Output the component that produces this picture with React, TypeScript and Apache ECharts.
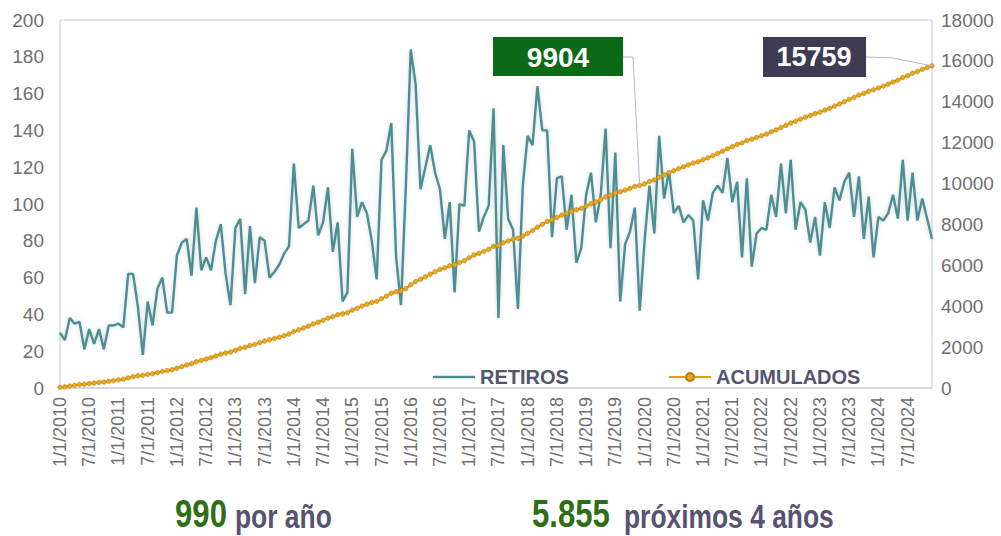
import React, { useEffect, useRef } from "react";
import * as echarts from "echarts";

const YEARS = [2010, 2011, 2012, 2013, 2014, 2015, 2016, 2017, 2018, 2019, 2020, 2021, 2022, 2023, 2024];
const MONTHS = [1, 2, 3, 4, 5, 6, 7, 8, 9, 10, 11, 12];

const RETIROS_2010 = [30, 26, 38, 35, 36, 21, 32, 24, 32, 21, 34, 34];
const RETIROS_2011 = [35, 33, 62, 62, 44, 18, 47, 34, 54, 60, 41, 41];
const RETIROS_2012 = [72, 79, 81, 61, 98, 64, 71, 64, 80, 89, 62, 45];
const RETIROS_2013 = [87, 92, 51, 88, 57, 82, 80, 60, 63, 67, 73, 77];
const RETIROS_2014 = [122, 87, 89, 91, 110, 83, 90, 109, 74, 90, 47, 52];
const RETIROS_2015 = [130, 93, 101, 95, 80, 59, 124, 129, 144, 71, 45, 110];
const RETIROS_2016 = [184, 165, 108, 120, 132, 117, 108, 81, 101, 52, 100, 99];
const RETIROS_2017 = [140, 134, 85, 93, 99, 152, 38, 132, 92, 86, 43, 110];
const RETIROS_2018 = [137, 132, 164, 140, 140, 82, 114, 115, 86, 105, 68, 76];
const RETIROS_2019 = [105, 117, 90, 105, 141, 76, 128, 47, 78, 85, 98, 42];
const RETIROS_2020 = [80, 110, 84, 137, 103, 118, 95, 99, 90, 94, 91, 59];
const RETIROS_2021 = [102, 91, 106, 110, 106, 125, 101, 112, 71, 114, 66, 84];
const RETIROS_2022 = [87, 86, 105, 93, 122, 95, 124, 86, 101, 97, 79, 93];
const RETIROS_2023 = [72, 101, 87, 109, 102, 112, 117, 93, 115, 81, 104, 71];
const RETIROS_2024 = [93, 91, 95, 105, 92, 124, 91, 117, 91, 103, 92, 81];

const RETIROS = [
  ...RETIROS_2010, ...RETIROS_2011, ...RETIROS_2012, ...RETIROS_2013, ...RETIROS_2014,
  ...RETIROS_2015, ...RETIROS_2016, ...RETIROS_2017, ...RETIROS_2018, ...RETIROS_2019,
  ...RETIROS_2020, ...RETIROS_2021, ...RETIROS_2022, ...RETIROS_2023, ...RETIROS_2024,
];

const CATEGORIES = YEARS.flatMap((y) => MONTHS.map((m) => `${m}/1/${y}`));

const ACUMULADOS: number[] = [];
RETIROS.reduce((acc, v) => {
  const s = acc + v;
  ACUMULADOS.push(s);
  return s;
}, 0);

const MID_CATEGORY = "12/1/2019";
const MID_LABEL = "9904";
const END_LABEL = "15759";
const SUMMARY_LEFT = ["990", "por año"];
const SUMMARY_RIGHT = ["5.855", "próximos 4 años"];

const TEAL = "#4d8f90";
const ORANGE = "#e29d18";
const SLATE = "#56536f";
const GREEN = "#2f6e12";
const AXIS_GRAY = "#6f6f6f";
const FONT = "'Liberation Sans', Arial, sans-serif";

export default function App() {
  const ref = useRef<HTMLDivElement>(null);

  useEffect(() => {
    const chart = echarts.init(ref.current!, null, { renderer: "svg" });
    const legendText = { fontFamily: FONT, fontSize: 20, fontWeight: "bold", color: SLATE };
    chart.setOption({
      animation: false,
      backgroundColor: "#ffffff",
      grid: {
        left: 60,
        right: 69,
        top: 20,
        bottom: 148,
        show: true,
        borderColor: "#c9c7da",
        borderWidth: 1,
      },
      legend: [
        {
          data: [{ name: "RETIROS", icon: "path://M0,0 L42,0 L42,2.5 L0,2.5 Z" }],
          left: 428,
          top: 362,
          itemWidth: 42,
          itemHeight: 10,
          textStyle: legendText,
        },
        {
          data: ["ACUMULADOS"],
          left: 663,
          top: 362,
          itemWidth: 42,
          itemHeight: 10,
          textStyle: legendText,
        },
      ],
      xAxis: {
        type: "category",
        boundaryGap: false,
        data: CATEGORIES,
        axisTick: { show: false },
        axisLine: { show: true, lineStyle: { color: "#d6d6de", width: 2 } },
        axisLabel: {
          rotate: 90,
          interval: 5,
          margin: 9,
          fontFamily: FONT,
          fontSize: 18,
          color: AXIS_GRAY,
        },
        splitLine: { show: false },
      },
      yAxis: [
        {
          type: "value",
          min: 0,
          max: 200,
          interval: 20,
          axisLine: { show: false },
          axisTick: { show: false },
          splitLine: { show: false },
          axisLabel: { margin: 16, fontFamily: FONT, fontSize: 19, color: AXIS_GRAY },
        },
        {
          type: "value",
          min: 0,
          max: 18000,
          interval: 2000,
          axisLine: { show: false },
          axisTick: { show: false },
          splitLine: { show: false },
          axisLabel: {
            margin: 9,
            fontFamily: FONT,
            fontSize: 19,
            color: AXIS_GRAY,
            formatter: (v: number) => String(v),
          },
        },
      ],
      series: [
        {
          name: "RETIROS",
          type: "line",
          yAxisIndex: 0,
          data: RETIROS,
          symbol: "none",
          color: TEAL,
          lineStyle: {
            color: TEAL,
            width: 2.4,
            shadowColor: "rgba(110,130,160,0.35)",
            shadowBlur: 4,
          },
        },
        {
          name: "ACUMULADOS",
          type: "line",
          yAxisIndex: 1,
          data: ACUMULADOS,
          symbol: "circle",
          symbolSize: 4.5,
          showAllSymbol: true,
          color: ORANGE,
          lineStyle: { color: ORANGE, width: 2 },
          itemStyle: { color: "#e8aa22", borderColor: "#b97d0c", borderWidth: 0.6 },
        },
      ],
    });

    const pMid = chart.convertToPixel({ xAxisIndex: 0, yAxisIndex: 1 }, [
      MID_CATEGORY,
      ACUMULADOS[CATEGORIES.indexOf(MID_CATEGORY)],
    ]) as number[];
    const lastCat = CATEGORIES[CATEGORIES.length - 1];
    const pEnd = chart.convertToPixel({ xAxisIndex: 0, yAxisIndex: 1 }, [
      lastCat,
      ACUMULADOS[ACUMULADOS.length - 1],
    ]) as number[];

    const bigNum = (text: string, x: number) => ({
      type: "text",
      x,
      y: 514,
      scaleX: 0.82,
      style: {
        text,
        fill: GREEN,
        font: `bold 38px ${FONT}`,
        textAlign: "left",
        textVerticalAlign: "middle",
      },
    });
    const smallText = (text: string, x: number) => ({
      type: "text",
      x,
      y: 516,
      scaleX: 0.8,
      style: {
        text,
        fill: SLATE,
        font: `bold 33px ${FONT}`,
        textAlign: "left",
        textVerticalAlign: "middle",
      },
    });

    chart.setOption({
      graphic: [
        {
          type: "polyline",
          shape: { points: [[623, 57], [633, 57], [pMid[0], pMid[1]]] },
          style: { stroke: "#b7b5c8", lineWidth: 1, fill: "none" },
          z: 50,
        },
        {
          type: "rect",
          shape: { x: 493, y: 37, width: 130, height: 39 },
          style: { fill: "#0c6a16" },
          z: 51,
        },
        {
          type: "text",
          x: 558,
          y: 57,
          style: {
            text: MID_LABEL,
            fill: "#ffffff",
            font: `bold 28px ${FONT}`,
            textAlign: "center",
            textVerticalAlign: "middle",
          },
          z: 52,
        },
        {
          type: "polyline",
          shape: { points: [[866, 57], [893, 58], [pEnd[0], pEnd[1]]] },
          style: { stroke: "#b7b5c8", lineWidth: 1, fill: "none" },
          z: 50,
        },
        {
          type: "rect",
          shape: { x: 763, y: 37, width: 103, height: 40 },
          style: { fill: "#3e3c54" },
          z: 51,
        },
        {
          type: "text",
          x: 814,
          y: 57,
          style: {
            text: END_LABEL,
            fill: "#ffffff",
            font: `bold 27px ${FONT}`,
            textAlign: "center",
            textVerticalAlign: "middle",
          },
          z: 52,
        },
        bigNum(SUMMARY_LEFT[0], 175),
        smallText(SUMMARY_LEFT[1], 235),
        bigNum(SUMMARY_RIGHT[0], 532),
        smallText(SUMMARY_RIGHT[1], 624),
      ],
    });

    return () => chart.dispose();
  }, []);

  return (
    <div
      ref={ref}
      style={{ position: "fixed", left: 0, top: 0, width: 1001, height: 536 }}
    />
  );
}
